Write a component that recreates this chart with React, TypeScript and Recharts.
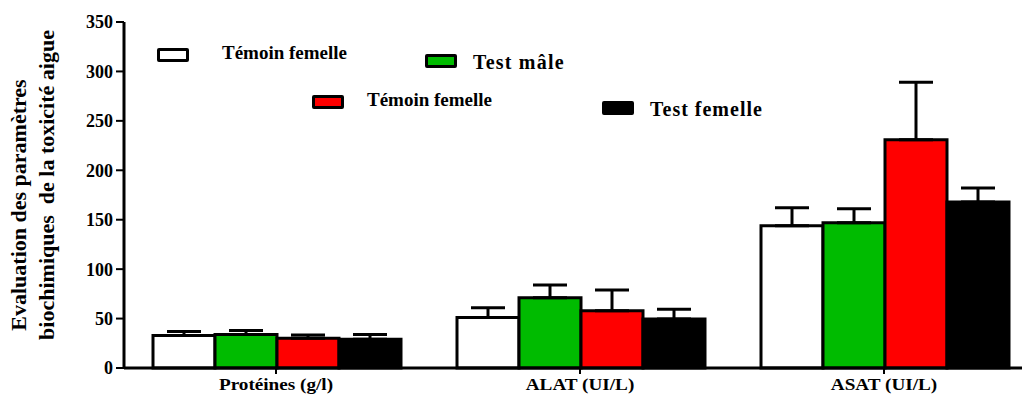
import React from "react";
import { BarChart, Bar, XAxis, YAxis, ErrorBar } from "recharts";

const categories = ["Protéines (g/l)", "ALAT (UI/L)", "ASAT (UI/L)"];

const seriesNames = ["Témoin femelle", "Test mâle", "Témoin femelle", "Test femelle"];
const seriesColors = ["#ffffff", "#00bb00", "#ff0000", "#000000"];

// means and upper error (SEM) per category
const temoinFemelle1 = [33, 51, 144];
const temoinFemelle1Err = [4, 10, 18];
const testMale = [34, 71, 147];
const testMaleErr = [4, 13, 14];
const temoinFemelle2 = [30, 58, 231];
const temoinFemelle2Err = [3.5, 21, 58];
const testFemelle = [29, 49.5, 168];
const testFemelleErr = [5, 10, 14];

const yTicks = [0, 50, 100, 150, 200, 250, 300, 350];

const means = [temoinFemelle1, testMale, temoinFemelle2, testFemelle];
const errs = [temoinFemelle1Err, testMaleErr, temoinFemelle2Err, testFemelleErr];

const data = categories.map((c, i) => {
  const row: Record<string, any> = { name: c };
  means.forEach((m, s) => {
    row["s" + s] = m[i];
    row["e" + s] = [0, errs[s][i]];
  });
  return row;
});

// where each legend entry sits in the picture
const legendSpots = [
  { left: 157, top: 48, textLeft: 222, textTop: 42, size: 19, spacing: 0 },
  { left: 425, top: 54, textLeft: 473, textTop: 51, size: 20, spacing: 1.2 },
  { left: 312, top: 95, textLeft: 367, textTop: 89, size: 19, spacing: 0 },
  { left: 602, top: 101, textLeft: 650, textTop: 98, size: 20, spacing: 1 },
];

const font = "'Liberation Serif', 'Times New Roman', serif";

function YLabel() {
  return (
    <g fontFamily={font} fontWeight="bold" fontSize={22} fill="#000">
      <text transform="translate(26,205) rotate(-90)" textAnchor="middle">
        Evaluation des paramètres
      </text>
      <text transform="translate(54,185) rotate(-90)" textAnchor="middle">
        {"biochimiques\u00a0 de la toxicité aigue"}
      </text>
    </g>
  );
}

function XTick(props: any) {
  const { x, y, payload } = props;
  return (
    <g transform={`translate(${x},${y})`}>
      <text
        transform="scale(1.2,1)"
        y={13}
        textAnchor="middle"
        fontFamily={font}
        fontWeight="bold"
        fontSize={16}
        fill="#000"
      >
        {payload.value}
      </text>
    </g>
  );
}

export default function App() {
  return (
    <div
      style={{
        position: "fixed",
        left: 0,
        top: 0,
        width: 1022,
        height: 395,
        overflow: "hidden",
        background: "#fff",
      }}
    >
      <BarChart
        width={1040}
        height={395}
        data={data}
        margin={{ top: 22, right: 4, bottom: 0, left: 0 }}
        barCategoryGap={29}
        barGap={0}
      >
        <XAxis
          dataKey="name"
          height={27}
          axisLine={{ stroke: "#000", strokeWidth: 3 }}
          tickLine={{ stroke: "#000", strokeWidth: 2 }}
          tickSize={6}
          tickMargin={3}
          tick={<XTick />}
        />
        <YAxis
          width={124}
          domain={[0, 350]}
          ticks={yTicks}
          interval={0}
          axisLine={{ stroke: "#000", strokeWidth: 3 }}
          tickLine={{ stroke: "#000", strokeWidth: 2 }}
          tickSize={8}
          tickMargin={3}
          tick={{ fill: "#000", fontFamily: font, fontWeight: "bold", fontSize: 18 }}
          label={{ content: () => <YLabel /> }}
        />
        {seriesNames.map((n, s) => (
          <Bar
            key={s}
            dataKey={"s" + s}
            name={n}
            fill={seriesColors[s]}
            stroke="#000"
            strokeWidth={3}
            isAnimationActive={false}
          >
            <ErrorBar
              dataKey={"e" + s}
              direction="y"
              width={17}
              stroke="#000"
              strokeWidth={3}
            />
          </Bar>
        ))}
      </BarChart>
      {seriesNames.map((n, s) => (
        <React.Fragment key={s}>
          <div
            style={{
              position: "absolute",
              left: legendSpots[s].left,
              top: legendSpots[s].top,
              width: 26,
              height: 8,
              background: seriesColors[s],
              border: "3.5px solid #000",
              borderRadius: 2,
            }}
          />
          <div
            style={{
              position: "absolute",
              left: legendSpots[s].textLeft,
              top: legendSpots[s].textTop,
              fontFamily: font,
              fontWeight: "bold",
              fontSize: legendSpots[s].size,
              letterSpacing: legendSpots[s].spacing,
              whiteSpace: "nowrap",
              color: "#000",
            }}
          >
            {n}
          </div>
        </React.Fragment>
      ))}
    </div>
  );
}
